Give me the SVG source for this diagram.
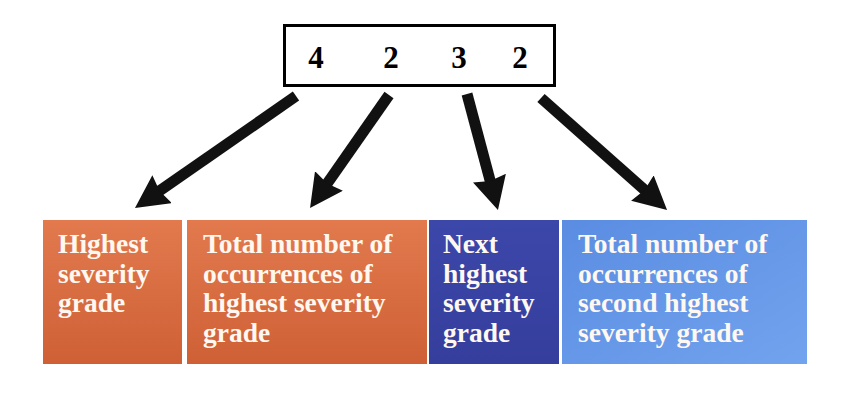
<svg xmlns="http://www.w3.org/2000/svg" width="851" height="402" viewBox="0 0 851 402">
  <defs>
    <linearGradient id="gOrange" x1="0" y1="0" x2="0" y2="1">
      <stop offset="0" stop-color="#E27A4E"/>
      <stop offset="1" stop-color="#CF6036"/>
    </linearGradient>
    <linearGradient id="gDark" x1="0" y1="0" x2="0" y2="1">
      <stop offset="0" stop-color="#3C47AA"/>
      <stop offset="1" stop-color="#353E9C"/>
    </linearGradient>
    <linearGradient id="gLight" x1="0" y1="0" x2="1" y2="1">
      <stop offset="0" stop-color="#5A8CE2"/>
      <stop offset="1" stop-color="#72A3EE"/>
    </linearGradient>
    <marker id="head" viewBox="0 0 33 34" refX="13" refY="17" markerWidth="33" markerHeight="34" markerUnits="userSpaceOnUse" orient="auto">
      <path d="M0,0 L33,17 L0,34 L3,17 z" fill="#111"/>
    </marker>
  </defs>
  <style>
    .num { font-family: "Liberation Serif", "Times New Roman", serif; font-weight: bold; font-size: 31px; fill: #000; text-anchor: middle; }
    .lbl { font-family: "Liberation Serif", "Times New Roman", serif; font-weight: bold; font-size: 27.5px; fill: #FFF8F0; }
    .arrow { stroke: #111; stroke-width: 11; fill: none; marker-end: url(#head); }
  </style>
  <rect width="851" height="402" fill="#ffffff"/>

  <g id="code">
    <rect x="284.5" y="25.5" width="270" height="60" fill="#ffffff" stroke="#000" stroke-width="3"/>
    <text class="num" x="316" y="68">4</text>
    <text class="num" x="391" y="68">2</text>
    <text class="num" x="459" y="68">3</text>
    <text class="num" x="520" y="68">2</text>
  </g>

  <g id="connectors">
    <line class="arrow" x1="296" y1="96" x2="151.4" y2="196.6"/>
    <line class="arrow" x1="389" y1="95" x2="321.5" y2="191.6"/>
    <line class="arrow" x1="467" y1="94" x2="492.8" y2="190.7"/>
    <line class="arrow" x1="541" y1="98" x2="652.1" y2="196.7"/>
  </g>

  <g id="box1">
    <rect x="43" y="220" width="139" height="144" fill="url(#gOrange)"/>
    <text class="lbl" x="58" y="253">Highest</text>
    <text class="lbl" x="58" y="282.5">severity</text>
    <text class="lbl" x="58" y="312">grade</text>
  </g>

  <g id="box2">
    <rect x="187" y="220" width="240" height="144" fill="url(#gOrange)"/>
    <text class="lbl" x="203" y="253">Total number of</text>
    <text class="lbl" x="203" y="282.5">occurrences of</text>
    <text class="lbl" x="203" y="312">highest severity</text>
    <text class="lbl" x="203" y="341.5">grade</text>
  </g>

  <g id="box3">
    <rect x="429" y="220" width="130" height="144" fill="url(#gDark)"/>
    <text class="lbl" x="443" y="253">Next</text>
    <text class="lbl" x="443" y="282.5">highest</text>
    <text class="lbl" x="443" y="312">severity</text>
    <text class="lbl" x="443" y="341.5">grade</text>
  </g>

  <g id="box4">
    <rect x="562" y="220" width="245" height="144" fill="url(#gLight)"/>
    <text class="lbl" x="578" y="253">Total number of</text>
    <text class="lbl" x="578" y="282.5">occurrences of</text>
    <text class="lbl" x="578" y="312">second highest</text>
    <text class="lbl" x="578" y="341.5">severity grade</text>
  </g>
</svg>
